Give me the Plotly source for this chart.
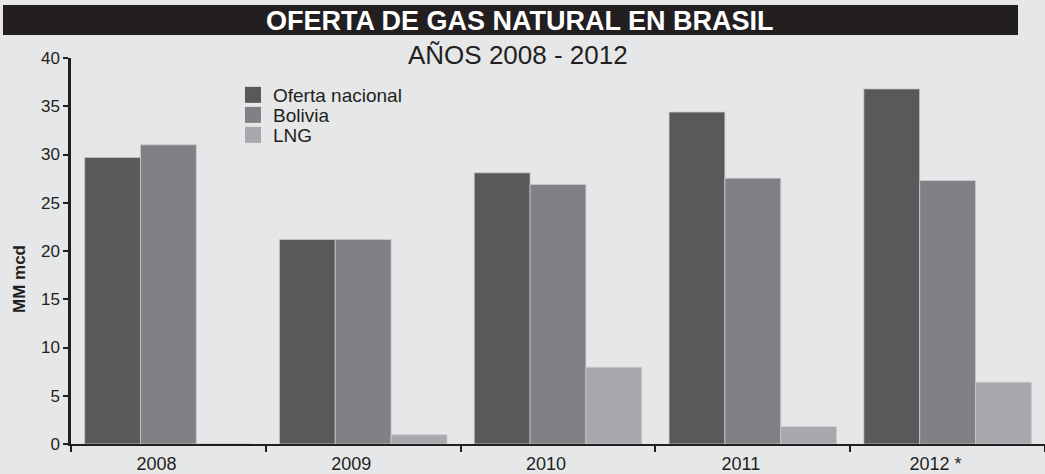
import plotly.graph_objects as go

years = ["2008", "2009", "2010", "2011", "2012 *"]
oferta_nacional = [29.7, 21.2, 28.1, 34.4, 36.8]
bolivia = [31.0, 21.2, 26.9, 27.55, 27.3]
lng = [0.0, 0.95, 7.95, 1.8, 6.4]
y_ticks = [0, 5, 10, 15, 20, 25, 30, 35, 40]

BG = "#e6e7e8"
INK = "#231f20"
FONT = "Liberation Sans, Arial, sans-serif"

# plot area in pixels: left 71, right 1045, top 58, bottom 444
PL, PW, PB, PH = 71, 974, 444, 386
def px(xp):
    return (xp - PL) / PW
def py(yp):
    return (PB - yp) / PH

series = [
    ("Oferta nacional", oferta_nacional, "#58595b"),
    ("Bolivia", bolivia, "#808184"),
    ("LNG", lng, "#a7a9ac"),
]
legend_ids = ["legend", "legend2", "legend3"]
legend_rows = [95, 115, 135]

fig = go.Figure()
for name, vals, col in series:
    fig.add_trace(go.Bar(
        x=years, y=vals, name=name, showlegend=False,
        marker=dict(color=col, line=dict(color="#c9cacc", width=0.8)),
    ))
# legend entries (square swatches)
for (name, vals, col), lid in zip(series, legend_ids):
    fig.add_trace(go.Scatter(
        x=[None], y=[None], name=name, mode="markers", legend=lid,
        marker=dict(symbol="square", size=17, color=col),
        hoverinfo="skip",
    ))

legend_common = dict(
    xanchor="left", yanchor="middle", bgcolor="rgba(0,0,0,0)",
    font=dict(size=19, color=INK, family=FONT), itemwidth=30,
    borderwidth=0,
)
layout_legends = {}
for lid, row in zip(legend_ids, legend_rows):
    layout_legends[lid] = dict(x=px(233), y=py(row), **legend_common)

fig.update_layout(
    width=1045, height=474,
    paper_bgcolor=BG, plot_bgcolor=BG,
    margin=dict(l=PL, r=0, t=58, b=30),
    barmode="group", bargap=0.14, bargroupgap=0,
    font=dict(family=FONT, color=INK),
    showlegend=True,
    xaxis=dict(
        type="category", showgrid=False, zeroline=False,
        showline=True, linecolor=INK, linewidth=2,
        ticks="outside", tickson="boundaries", ticklen=6, tickwidth=2, tickcolor=INK,
        tickfont=dict(size=18, color=INK, family=FONT),
        ticklabelshift=-12, ticklabelstandoff=2,
    ),
    yaxis=dict(
        range=[0, 40], tickvals=y_ticks, showgrid=False, zeroline=False,
        showline=True, linecolor=INK, linewidth=2.5,
        ticks="outside", ticklen=5, tickwidth=2, tickcolor=INK,
        tickfont=dict(size=17, color=INK, family=FONT),
    ),
    shapes=[dict(
        type="rect", xref="paper", yref="paper",
        x0=px(3), x1=px(1018), y0=py(35), y1=py(5),
        fillcolor=INK, line=dict(width=0), layer="above",
    )],
    annotations=[
        dict(text="<b>OFERTA DE GAS NATURAL EN BRASIL</b>", xref="paper", yref="paper",
             x=px(520), y=py(21), xanchor="center", yanchor="middle",
             showarrow=False, font=dict(size=27, color="white", family=FONT)),
        dict(text="AÑOS 2008 - 2012", xref="paper", yref="paper",
             x=px(518), y=py(55), xanchor="center", yanchor="middle",
             showarrow=False, font=dict(size=26, color=INK, family=FONT)),
        dict(text="<b>MM mcd</b>", xref="paper", yref="paper",
             x=px(19), y=py(279), xanchor="center", yanchor="middle", textangle=-90,
             showarrow=False, font=dict(size=17, color=INK, family=FONT)),
    ],
    **layout_legends,
)

fig.write_html(
    "out.html",
    config={"displayModeBar": False},
    post_script="document.body.style.margin='0';document.body.style.background='%s';" % BG,
)
